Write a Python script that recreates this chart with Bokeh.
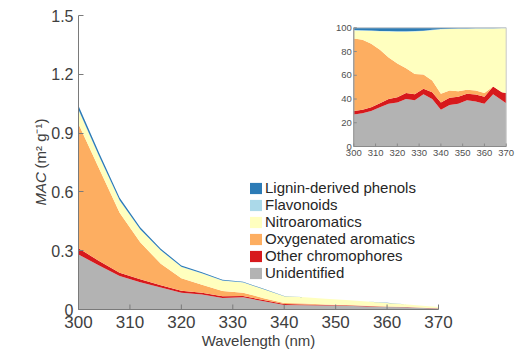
import math
from bokeh.plotting import figure
from bokeh.models import ColumnDataSource, Range1d, Legend, LegendItem, Label, FixedTicker
from bokeh.core.properties import value
from bokeh.embed import file_html
from bokeh.resources import INLINE

# ---------------- data ----------------
wavelength = [300, 304, 308, 312, 316, 320, 324, 328, 332, 336, 340,
              344, 348, 352, 356, 360, 364, 368, 370]

categories = ["Unidentified", "Other chromophores", "Oxygenated aromatics",
              "Nitroaromatics", "Flavonoids", "Lignin-derived phenols"]
colors = ["#b3b3b3", "#d7191c", "#fdae61", "#ffffbf", "#abd9e9", "#2c7bb6"]

# main panel: MAC (m2 g-1) of each class
mac_unidentified = [0.281, 0.224, 0.171, 0.139, 0.112, 0.085, 0.076, 0.059, 0.062, 0.042, 0.023,
                    0.022, 0.020, 0.019, 0.0156, 0.0122, 0.0114, 0.0066, 0.0047]
mac_other = [0.031, 0.024, 0.017, 0.015, 0.012, 0.011, 0.010, 0.008, 0.007, 0.006, 0.005,
             0.004, 0.003, 0.0026, 0.0024, 0.002, 0.0017, 0.0012, 0.0011]
mac_oxygenated = [0.634, 0.472, 0.305, 0.189, 0.109, 0.064, 0.040, 0.028, 0.017, 0.010, 0.005,
                  0.004, 0.0025, 0.0016, 0.0014, 0.001, 0.0, 0.0, 0.0]
mac_nitro = [0.071, 0.061, 0.062, 0.065, 0.068, 0.057, 0.058, 0.052, 0.052, 0.045, 0.035,
             0.032, 0.029, 0.0247, 0.0214, 0.0185, 0.0127, 0.0091, 0.0071]
mac_flavonoids = [0.003, 0.002, 0.002, 0.001, 0.001, 0.001, 0.001, 0.001, 0.001, 0.0003, 0.0002,
                  0.0001, 0.0001, 0.0001, 0.0001, 0.0001, 0.0001, 0.0, 0.0]
mac_lignin = [0.020, 0.017, 0.013, 0.011, 0.008, 0.007, 0.005, 0.004, 0.003, 0.002, 0.0007,
              0.0005, 0.0003, 0.0002, 0.0002, 0.0001, 0.0001, 0.0001, 0.0001]

# inset: contribution (%) of each class
pct_unidentified = [27, 28, 30, 33, 36, 37, 40, 39, 44, 40, 31, 35, 36, 39, 38, 36, 44, 39, 36.5]
pct_other = [3, 3, 3, 3.5, 4, 4.5, 5, 5, 4.6, 5.8, 6, 6, 6, 5.4, 5.8, 6, 6.5, 6.8, 8.5]
pct_oxygenated = [61, 59, 53.5, 45, 35, 28.5, 21, 17, 12.1, 9.8, 7.4, 6.2, 4.6, 3.4, 3.4, 3, 0, 0, 0]
pct_nitro = [6.8, 7.6, 10.9, 15.6, 21.9, 26.7, 30.7, 35.9, 36.6, 42.4, 54.3, 51.8, 52.6, 51.5,
             52.2, 54.5, 49, 53.8, 54.6]
pct_flavonoids = [0.3, 0.3, 0.3, 0.3, 0.3, 0.3, 0.3, 0.3, 0.3, 0.3, 0.3, 0.2, 0.2, 0.2, 0.2, 0.2,
                  0.2, 0.2, 0.2]
pct_lignin = [1.9, 2.1, 2.3, 2.6, 2.8, 3.0, 3.0, 2.8, 2.4, 1.7, 1.0, 0.8, 0.6, 0.5, 0.4, 0.3,
              0.3, 0.2, 0.2]

x_ticks = [300, 310, 320, 330, 340, 350, 360, 370]
x_tick_labels = ["300", "310", "320", "330", "340", "350", "360", "370"]
y_ticks = [0, 0.3, 0.6, 0.9, 1.2, 1.5]
y_tick_labels = ["0", "0.3", "0.6", "0.9", "1.2", "1.5"]
inset_y_ticks = [0, 20, 40, 60, 80, 100]
inset_y_labels = ["0", "20", "40", "60", "80", "100"]

# ---------------- layout (page pixels) ----------------
W, H = 522, 352
B_LEFT = 30
FW = W - B_LEFT
FH = H
AXIS_LEFT_PAGE = 78      # x position of wavelength 300
AXIS_BOTTOM_PAGE = 309   # y position of MAC 0
AXIS_TOP_PAGE = 15       # y position of MAC 1.5
PX_PER_NM = 360 / 70.0
PX_PER_UNIT = (AXIS_BOTTOM_PAGE - AXIS_TOP_PAGE) / 1.5
X_START = 300 - (AXIS_LEFT_PAGE - B_LEFT) / PX_PER_NM
X_END = X_START + FW / PX_PER_NM
Y_START = -(H - AXIS_BOTTOM_PAGE) / PX_PER_UNIT
Y_END = 1.5 + AXIS_TOP_PAGE / PX_PER_UNIT
AXIS_GREY = "#7a7a7a"


def dx(page_x):
    return 300 + (page_x - AXIS_LEFT_PAGE) / PX_PER_NM


def dy(page_y):
    return (AXIS_BOTTOM_PAGE - page_y) / PX_PER_UNIT


# inset box (page pixels) -> offsets from frame left / top
IN_L, IN_R = 353.3 - B_LEFT, 505.7 - B_LEFT
IN_T, IN_B = 27.3, 146.0
kx = (IN_R - IN_L) / 70.0
ky = (IN_B - IN_T) / 100.0
inset_x = Range1d(300 - IN_L / kx, 300 + (FW - IN_L) / kx)
inset_y = Range1d(0 - (FH - IN_B) / ky, 100 + IN_T / ky)

p = figure(width=W, height=H, output_backend="svg", toolbar_location=None,
           x_range=Range1d(X_START, X_END), y_range=Range1d(Y_START, Y_END),
           x_axis_location=None,
           min_border_left=B_LEFT, min_border_top=0, min_border_right=0, min_border_bottom=0)
p.extra_x_ranges = {"ix": inset_x}
p.extra_y_ranges = {"iy": inset_y}
p.outline_line_color = None
p.xgrid.visible = False
p.ygrid.visible = False

cols = ["u", "o", "x", "n", "f", "l"]
src = ColumnDataSource(dict(wl=wavelength, u=mac_unidentified, o=mac_other, x=mac_oxygenated,
                            n=mac_nitro, f=mac_flavonoids, l=mac_lignin))
rends = p.varea_stack(stackers=cols, x="wl", color=colors, source=src)

src2 = ColumnDataSource(dict(wl=wavelength, u=pct_unidentified, o=pct_other, x=pct_oxygenated,
                             n=pct_nitro, f=pct_flavonoids, l=pct_lignin))
p.varea_stack(stackers=cols, x="wl", color=colors, source=src2,
              x_range_name="ix", y_range_name="iy")

# inset box and axes
p.quad(left=[300], right=[370], bottom=[0], top=[100], fill_color=None,
       line_color="#c8c8c8", line_width=1, x_range_name="ix", y_range_name="iy")
p.segment(x0=[300, 300], y0=[0, 0], x1=[300, 370], y1=[100, 0], line_color="#8a8a8a",
          line_width=1, x_range_name="ix", y_range_name="iy")
tl_x = 3 / kx
tl_y = 3 / ky
p.segment(x0=[300] * len(inset_y_ticks), y0=inset_y_ticks,
          x1=[300 + tl_x] * len(inset_y_ticks), y1=inset_y_ticks,
          line_color="#8a8a8a", x_range_name="ix", y_range_name="iy")
p.segment(x0=x_ticks, y0=[0] * len(x_ticks), x1=x_ticks, y1=[tl_y] * len(x_ticks),
          line_color="#8a8a8a", x_range_name="ix", y_range_name="iy")
p.text(x=[300] * len(inset_y_ticks), y=inset_y_ticks, text=inset_y_labels,
       text_align="right", text_baseline="middle", x_offset=-2,
       text_font=value("Liberation Sans"), text_font_size=value("9.5px"),
       text_color="#505050", x_range_name="ix", y_range_name="iy")
p.text(x=x_ticks, y=[0] * len(x_ticks), text=x_tick_labels,
       text_align="center", text_baseline="top", y_offset=3,
       text_font=value("Liberation Sans"), text_font_size=value("9.5px"),
       text_color="#505050", x_range_name="ix", y_range_name="iy")

# main y axis (placed at wavelength 300)
ya = p.yaxis[0]
ya.axis_line_color = AXIS_GREY
ya.major_tick_line_color = AXIS_GREY
ya.major_tick_in = 5
ya.major_tick_out = 0
ya.minor_tick_line_color = None
ya.major_label_text_font = "Liberation Sans"
ya.major_label_text_color = "#404040"
ya.ticker = FixedTicker(ticks=y_ticks)
ya.bounds = (0, 1.5)
ya.fixed_location = 300
ya.major_label_overrides = dict(zip(y_ticks, y_tick_labels))
ya.major_label_text_font_size = "16px"
ya.major_label_standoff = 5

# main x axis: line, inward ticks and labels at MAC = 0
tick_len = 5 / PX_PER_UNIT
p.segment(x0=[x_ticks[0]], y0=[0], x1=[x_ticks[-1]], y1=[0], line_color=AXIS_GREY, line_width=1)
p.segment(x0=x_ticks, y0=[0] * len(x_ticks), x1=x_ticks, y1=[tick_len] * len(x_ticks),
          line_color=AXIS_GREY, line_width=1)
p.text(x=x_ticks, y=[0] * len(x_ticks), text=x_tick_labels, text_align="center",
       text_baseline="top", y_offset=6, text_font=value("Liberation Sans"),
       text_font_size=value("17px"), text_color="#404040")

# axis titles
p.add_layout(Label(x=dx(258), y=dy(340), text="Wavelength (nm)", text_align="center",
                   text_baseline="middle", text_font="Liberation Sans",
                   text_font_size="15px", text_color="#404040"))
p.add_layout(Label(x=dx(40), y=dy(205), text="MAC", angle=math.pi / 2, text_align="left",
                   text_baseline="middle", text_font="Liberation Sans",
                   text_font_style="italic", text_font_size="15px", text_color="#404040"))
p.add_layout(Label(x=dx(40), y=dy(168), text="(m² g⁻¹)", angle=math.pi / 2, text_align="left",
                   text_baseline="middle", text_font="Liberation Sans",
                   text_font_size="15px", text_color="#404040"))

# legend
items = [LegendItem(label=c, renderers=[r]) for c, r in zip(categories, rends)][::-1]
legend = Legend(items=items, location=(248 - B_LEFT, H - 281), padding=0, margin=0, spacing=0,
                glyph_width=15, glyph_height=14, label_height=14, label_standoff=2,
                label_text_font="Liberation Sans", label_text_font_size="15px",
                label_text_color="#262626", background_fill_alpha=0, border_line_color=None)
p.add_layout(legend)

open("out.html", "w").write(file_html(p, INLINE))
